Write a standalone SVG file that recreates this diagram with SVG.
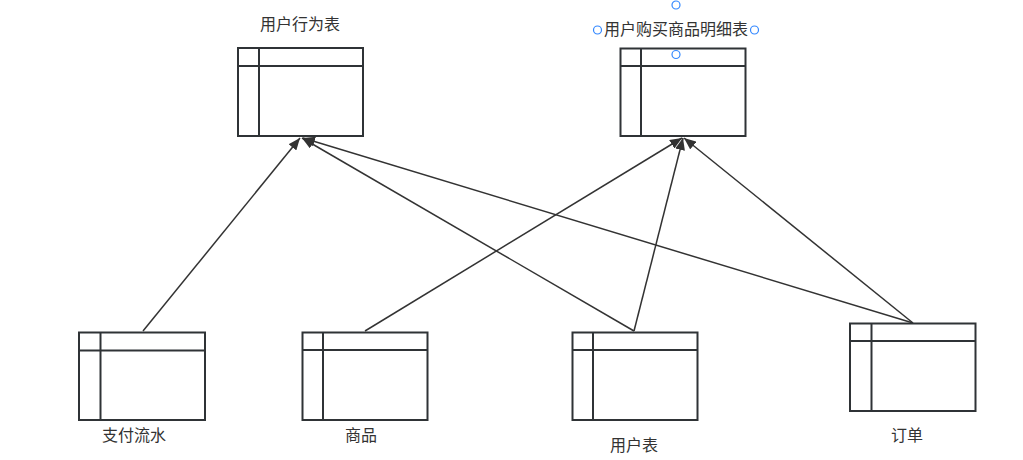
<svg xmlns="http://www.w3.org/2000/svg" width="1023" height="460" viewBox="0 0 1023 460">
<style>
.box{fill:#fff;stroke:#2f3336;stroke-width:2}
.ln{fill:none;stroke:#2f3336;stroke-width:2}
.edge{fill:none;stroke:#333;stroke-width:1.5}
.lbl{font-family:"Noto Sans CJK SC","Liberation Sans",sans-serif;font-size:16px;fill:#333;text-anchor:middle}
.h{fill:#fff;stroke:#3388ff;stroke-width:1.2}
</style>
<defs>
<marker id="ah" viewBox="0 0 12 10" refX="12" refY="5" markerWidth="12" markerHeight="10" markerUnits="userSpaceOnUse" orient="auto">
<path d="M0,0 L12,5 L0,10 Z" fill="#333"/>
</marker>
</defs>
<rect width="1023" height="460" fill="#fff"/>
<g id="connectors">
<line class="edge" x1="143" y1="331" x2="300" y2="138" marker-end="url(#ah)"/>
<line class="edge" x1="634" y1="331" x2="302" y2="138" marker-end="url(#ah)"/>
<line class="edge" x1="913" y1="323" x2="303" y2="138" marker-end="url(#ah)"/>
<line class="edge" x1="365" y1="331" x2="682" y2="138" marker-end="url(#ah)"/>
<line class="edge" x1="634" y1="331" x2="683" y2="138" marker-end="url(#ah)"/>
<line class="edge" x1="913" y1="323" x2="684" y2="138" marker-end="url(#ah)"/>
</g>
<g id="node-behavior">
<rect class="box" x="238" y="48" width="125" height="88"/>
<line class="ln" x1="238" y1="66" x2="363" y2="66"/>
<line class="ln" x1="259" y1="48" x2="259" y2="136"/>
<text class="lbl" x="300" y="30">用户行为表</text>
</g>
<g id="node-detail">
<rect class="box" x="620.5" y="48.5" width="125" height="87.5"/>
<line class="ln" x1="620.5" y1="66" x2="745.5" y2="66"/>
<line class="ln" x1="641" y1="48.5" x2="641" y2="136"/>
<text class="lbl" x="676" y="35">用户购买商品明细表</text>
<circle class="h" cx="676" cy="5" r="4"/>
<circle class="h" cx="597.5" cy="30" r="4"/>
<circle class="h" cx="754.5" cy="30" r="4"/>
<circle class="h" cx="676" cy="54.5" r="4"/>
</g>
<g id="node-payment">
<rect class="box" x="79" y="332.5" width="126" height="87.5"/>
<line class="ln" x1="79" y1="350.5" x2="205" y2="350.5"/>
<line class="ln" x1="100.5" y1="332.5" x2="100.5" y2="420"/>
<text class="lbl" x="134" y="441">支付流水</text>
</g>
<g id="node-goods">
<rect class="box" x="302.5" y="332.5" width="125" height="87.5"/>
<line class="ln" x1="302.5" y1="350" x2="427.5" y2="350"/>
<line class="ln" x1="323" y1="332.5" x2="323" y2="420"/>
<text class="lbl" x="361" y="441">商品</text>
</g>
<g id="node-user">
<rect class="box" x="572.5" y="332.5" width="125" height="87.5"/>
<line class="ln" x1="572.5" y1="350" x2="697.5" y2="350"/>
<line class="ln" x1="593" y1="332.5" x2="593" y2="420"/>
<text class="lbl" x="634" y="451">用户表</text>
</g>
<g id="node-order">
<rect class="box" x="850" y="323.5" width="125.5" height="87.5"/>
<line class="ln" x1="850" y1="341" x2="975.5" y2="341"/>
<line class="ln" x1="871.5" y1="323.5" x2="871.5" y2="411"/>
<text class="lbl" x="907" y="441">订单</text>
</g>
</svg>
